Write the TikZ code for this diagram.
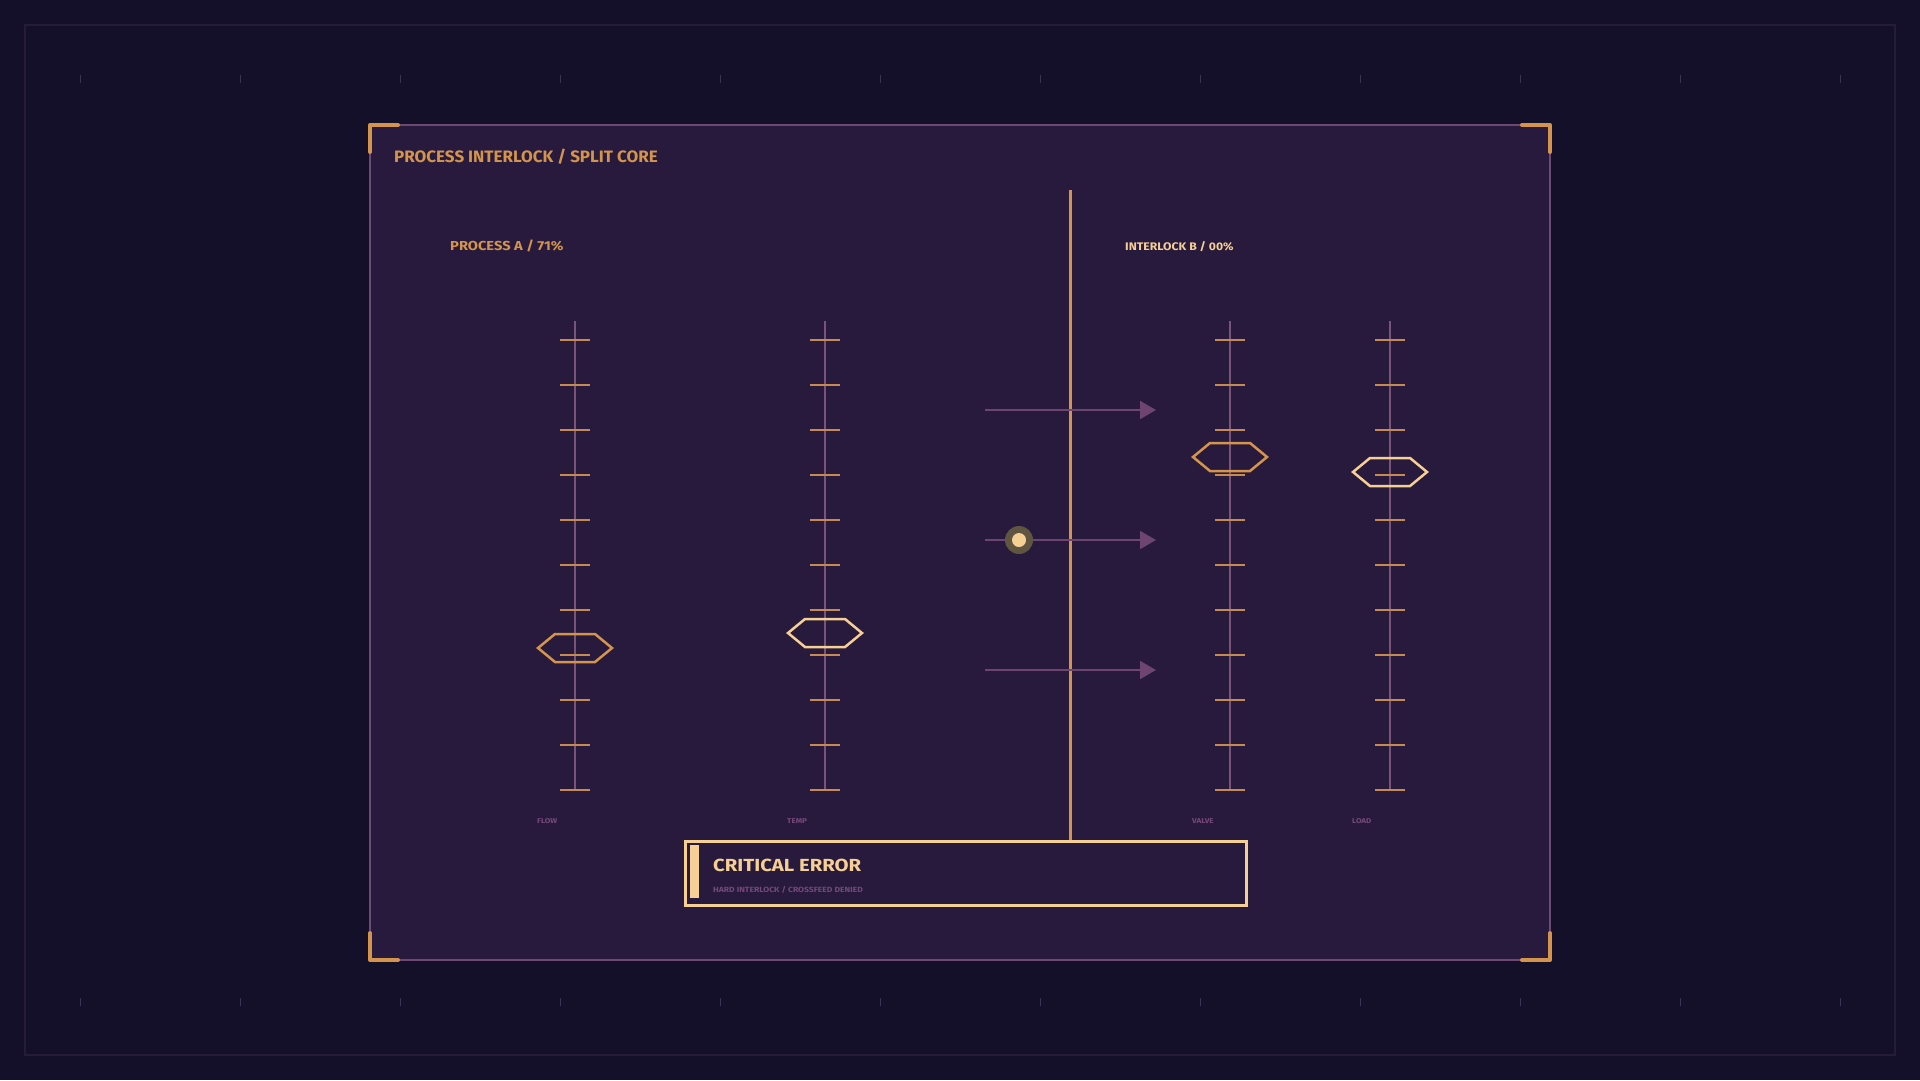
\documentclass[tikz,border=0pt]{standalone}
\usepackage{fontspec}
\setmainfont{Fira Sans}
\usetikzlibrary{arrows.meta}
\definecolor{bgcol}{HTML}{15102A}
\definecolor{framecol}{HTML}{241C38}
\definecolor{tickcol}{HTML}{3C3454}
\definecolor{panelcol}{HTML}{281A3C}
\definecolor{panelborder}{HTML}{6E4A72}
\definecolor{orng}{HTML}{D4944C}
\definecolor{cream}{HTML}{F6CF94}
\definecolor{axiscol}{HTML}{7A5378}
\definecolor{arrowcol}{HTML}{6E4470}
\definecolor{labelcol}{HTML}{74497A}
\definecolor{olivecol}{HTML}{5F5540}
\newcommand{\wfont}[2]{\bfseries\fontsize{#1}{#1}\selectfont\addfontfeature{FakeStretch=#2}}
\tikzset{
  txt/.style={inner sep=0pt, anchor=base west},
  axisline/.style={draw=axiscol, line width=2pt},
  tickline/.style={draw=orng!85!axiscol, line width=1.8pt},
  bracket/.style={draw=orng, line width=4pt, line cap=round, line join=round},
  hexmark/.pic={\draw[line width=2.5pt, line join=miter] (-37,0)--(-20,-14)--(20,-14)--(37,0)--(20,14)--(-20,14)--cycle;},
  flowarrow/.style={draw=arrowcol, line width=1.8pt, -{Triangle[length=16pt,width=18pt]}},
}
\begin{document}
\begin{tikzpicture}[x=1pt,y=-1pt]
\fill[bgcol] (0,0) rectangle (1920,1080);
\useasboundingbox (0,0) rectangle (1920,1080);
\draw[framecol, line width=1.5pt] (25,25) rectangle (1895,1055);
\foreach \x in {80,240,...,1840} {
  \draw[tickcol, line width=1pt] (\x,75)--(\x,83);
  \draw[tickcol, line width=1pt] (\x,998)--(\x,1006);
}
% panel
\draw[fill=panelcol, draw=panelborder, line width=2pt] (370,125) rectangle (1550,960);
\draw[bracket] (370,152)--(370,125)--(398,125);
\draw[bracket] (1522,125)--(1550,125)--(1550,152);
\draw[bracket] (370,933)--(370,960)--(398,960);
\draw[bracket] (1522,960)--(1550,960)--(1550,933);
% texts
\node[txt, text=orng, font=\wfont{16.5}{1.03}] (title) at (394,162) {PROCESS INTERLOCK / SPLIT CORE};
\node[txt, text=orng, font=\wfont{13}{1.13}] (pa) at (450,250.5) {PROCESS A / 71\%};
\node[txt, text=cream, font=\wfont{11}{1.11}] (ib) at (1125,250) {INTERLOCK B / 00\%};
% columns
\foreach \cx/\nm in {575/FLOW,825/TEMP,1230/VALVE,1390/LOAD} {
  \draw[axisline] (\cx,321)--(\cx,790);
  \foreach \ty in {340,385,...,790} {
    \draw[tickline] (\cx-15,\ty)--(\cx+15,\ty);
  }
  \node[txt, text=labelcol, font=\wfont{7}{1.15}] (lab\nm) at (\cx-38,823) {\nm};
}
\pic[draw=orng] at (575,648) {hexmark};
\pic[draw=cream] at (825,633) {hexmark};
\pic[draw=orng] at (1230,457) {hexmark};
\pic[draw=cream] at (1390,472) {hexmark};
% error box
\node[draw=cream, line width=2.5pt, fill=panelcol, minimum width=561pt, minimum height=64pt, inner sep=0pt, anchor=north west] (err) at (684,840) {};
\fill[cream] (690,845) rectangle (699,898);
\node[txt, text=cream, font=\wfont{17.5}{1.16}] (errt) at (713,871) {CRITICAL ERROR};
\node[txt, text=labelcol, font=\wfont{7.5}{1.14}] (errs) at (713,892) {HARD INTERLOCK / CROSSFEED DENIED};
% core line
\coordinate (ctop) at (1070,190);
\draw[orng, line width=3pt] (ctop) -- (ctop |- err.north);
% arrows
\coordinate (a1s) at (985,410); \coordinate (a1e) at (1156,410);
\coordinate (a2s) at (985,540); \coordinate (a2e) at (1156,540);
\coordinate (a3s) at (985,670); \coordinate (a3e) at (1156,670);
\draw[flowarrow] (a1s) -- (a1e);
\draw[flowarrow] (a2s) -- (a2e);
\draw[flowarrow] (a3s) -- (a3e);
\node[circle, fill=olivecol, minimum size=28pt, inner sep=0pt] (dot) at (1019,540) {};
\node[circle, fill=cream, minimum size=14pt, inner sep=0pt] (dotin) at (dot) {};
\end{tikzpicture}
\end{document}
